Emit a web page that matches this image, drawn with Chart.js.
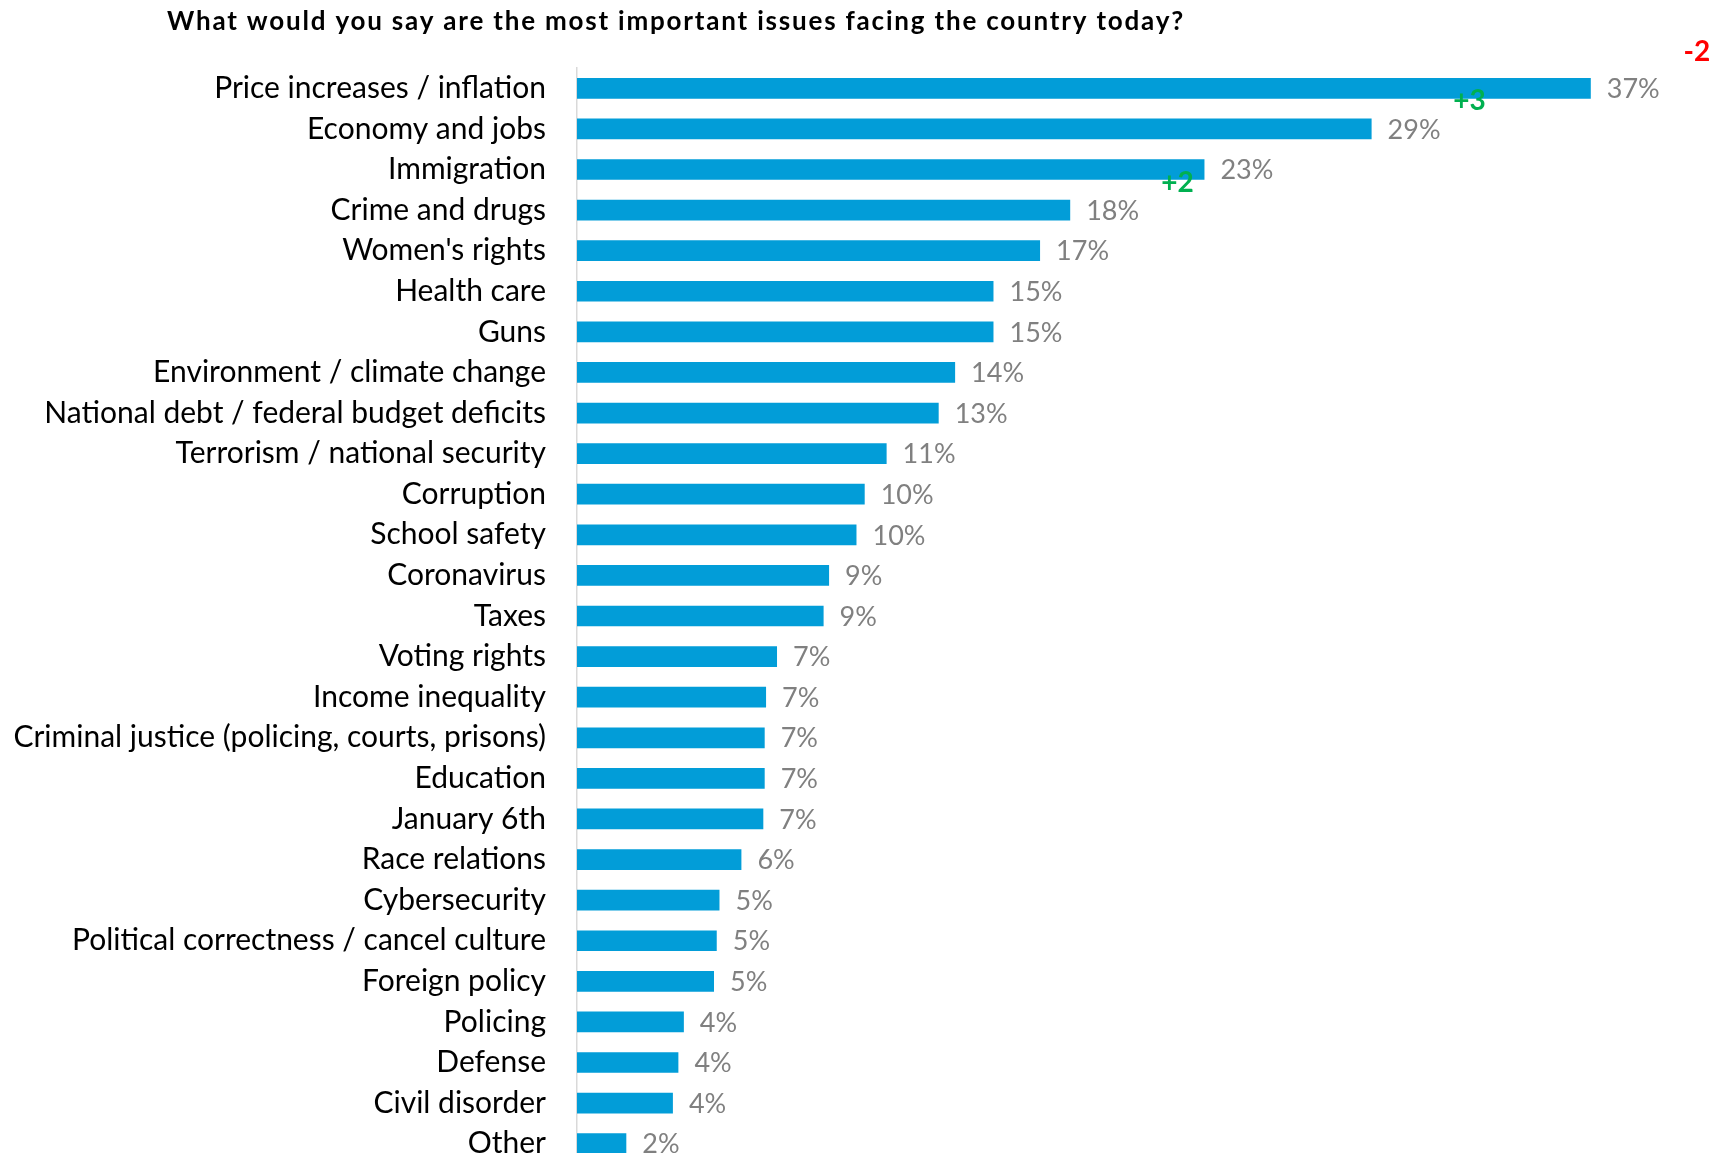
<!DOCTYPE html>
<html>
<head>
<meta charset="utf-8">
<script src="https://cdn.jsdelivr.net/npm/chart.js@4.4.0/dist/chart.umd.min.js"></script>
<style>
  html, body { margin: 0; padding: 0; background: #fff; overflow: hidden; }
  canvas { display: block; }
</style>
</head>
<body>
<canvas id="issuesChart" width="1723" height="1166"></canvas>
<script>
const chartTitle = 'What would you say are the most important issues facing the country today?';

const issues = [
  'Price increases / inflation', 'Economy and jobs', 'Immigration', 'Crime and drugs',
  "Women's rights", 'Health care', 'Guns', 'Environment / climate change',
  'National debt / federal budget deficits', 'Terrorism / national security', 'Corruption',
  'School safety', 'Coronavirus', 'Taxes', 'Voting rights', 'Income inequality',
  'Criminal justice (policing, courts, prisons)', 'Education', 'January 6th', 'Race relations',
  'Cybersecurity', 'Political correctness / cancel culture', 'Foreign policy', 'Policing',
  'Defense', 'Civil disorder', 'Other'
];

const shares = [
  37.0, 29.0, 22.9, 18.0, 16.9, 15.2, 15.2, 13.8, 13.2, 11.3, 10.5, 10.2, 9.2, 9.0,
  7.3, 6.9, 6.85, 6.85, 6.8, 6.0, 5.2, 5.1, 5.0, 3.9, 3.7, 3.5, 1.8
];

const shareLabels = [
  '37%', '29%', '23%', '18%', '17%', '15%', '15%', '14%', '13%', '11%', '10%', '10%', '9%', '9%',
  '7%', '7%', '7%', '7%', '7%', '6%', '5%', '5%', '5%', '4%', '4%', '4%', '2%'
];

// change vs previous wave, attached to the first three issues
const changeIssues = ['Price increases / inflation', 'Economy and jobs', 'Immigration'];
const changeLabels = ['-2', '+3', '+2'];

const barColor = '#029dd8';
const fontFamily = 'Lato, "Open Sans", sans-serif';

const titlePlugin = {
  id: 'titleText',
  afterDraw(chart) {
    const ctx = chart.ctx;
    ctx.save();
    ctx.font = 'bold 26px ' + fontFamily;
    ctx.letterSpacing = '1.8px';
    ctx.fillStyle = '#000';
    ctx.textAlign = 'left';
    ctx.textBaseline = 'middle';
    ctx.fillText(chartTitle, 167, 22);
    ctx.restore();
  }
};

const valueLabelPlugin = {
  id: 'valueLabels',
  afterDatasetsDraw(chart) {
    const ctx = chart.ctx;
    const meta = chart.getDatasetMeta(0);
    ctx.save();
    ctx.font = '27px ' + fontFamily;
    ctx.fillStyle = '#808080';
    ctx.textAlign = 'left';
    ctx.textBaseline = 'middle';
    meta.data.forEach(function(bar, i) {
      ctx.fillText(shareLabels[i], bar.x + 16, bar.y + 1);
    });

    // change markers, offset from the bar end the same way the source slide has them
    const offsets = [[106, -36], [98, -28], [-27, 13]];
    ctx.font = 'bold 28px ' + fontFamily;
    ctx.textAlign = 'center';
    changeIssues.forEach(function(name, k) {
      const i = issues.indexOf(name);
      const bar = meta.data[i];
      ctx.fillStyle = changeLabels[k].startsWith('-') ? '#ff0000' : '#00b050';
      ctx.fillText(changeLabels[k], bar.x + offsets[k][0], bar.y + offsets[k][1]);
    });
    ctx.restore();
  }
};

const ctx = document.getElementById('issuesChart').getContext('2d');

new Chart(ctx, {
  type: 'bar',
  data: {
    labels: issues,
    datasets: [{
      data: shares,
      backgroundColor: barColor,
      borderWidth: 0,
      categoryPercentage: 1,
      barPercentage: 0.51
    }]
  },
  options: {
    indexAxis: 'y',
    responsive: false,
    animation: false,
    layout: { padding: { top: 68, bottom: 2, left: 0, right: 50 } },
    plugins: {
      legend: { display: false },
      tooltip: { enabled: false },
      title: { display: false }
    },
    scales: {
      x: {
        display: false,
        min: 0,
        max: 40
      },
      y: {
        afterFit: function(scale) {
          scale.width = 577;
          scale.paddingTop = 0;
          scale.paddingBottom = 0;
        },
        grid: { display: false, drawTicks: false },
        border: { display: true, color: '#d9d9d9', width: 1.5 },
        ticks: {
          padding: 31,
          color: '#000',
          autoSkip: false,
          font: { family: fontFamily, size: 30 }
        }
      }
    }
  },
  plugins: [titlePlugin, valueLabelPlugin]
});
</script>
</body>
</html>
